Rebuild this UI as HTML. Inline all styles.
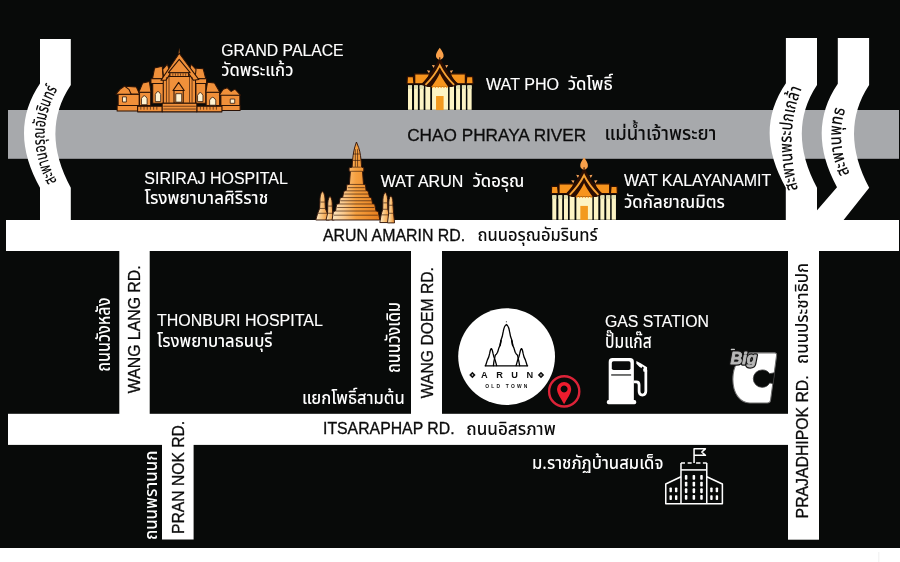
<!DOCTYPE html>
<html lang="th">
<head>
<meta charset="utf-8">
<title>Arun Old Town – Map</title>
<style>
html,body{margin:0;padding:0;background:#fff;}
body{width:900px;height:562px;overflow:hidden;}
svg{display:block;will-change:transform;}
.en{font-family:"Liberation Sans",Arial,Helvetica,sans-serif;font-size:15.6px;stroke-width:0.15px;}
.th{font-family:"Noto Sans Thai","Anuphan","IBM Plex Sans Thai","Liberation Sans","Loma",sans-serif;font-size:17.7px;font-weight:500;}
.w{fill:#fff;stroke:#fff;}
.k{fill:#0c0c0c;stroke:#0c0c0c;stroke-width:0.3px;}
.th{stroke:none;}
</style>
</head>
<body>
<svg width="900" height="562" viewBox="0 0 900 562">

<defs>
<linearGradient id="gArunS" x1="0" y1="0" x2="1" y2="0"><stop offset="0" stop-color="#fdebc8"/><stop offset="0.45" stop-color="#f9c47e"/><stop offset="1" stop-color="#ee8d2c"/></linearGradient>
<linearGradient id="gArun" x1="0" y1="0" x2="1" y2="0">
<stop offset="0" stop-color="#fee6c0"/><stop offset="0.24" stop-color="#fbc98c"/><stop offset="0.5" stop-color="#f5a040"/><stop offset="1" stop-color="#e67d1c"/>
</linearGradient>
<!-- temple pictogram drawn in a 11.2375x zoom frame, origin = (400,42) of the page -->
<g id="wat">
 <!-- side roofs -->
 <g fill="#f7941d" stroke="#2a0d02" stroke-width="14" stroke-linejoin="round">
  <path d="M82,388 H150 L158,470 H78 Z"/>
  <path d="M818,388 H750 L742,470 H822 Z"/>
  <path d="M165,358 H335 Q300,450 250,470 H165 Z"/>
  <path d="M735,358 H565 Q600,450 650,470 H735 Z"/>
 </g>
 <!-- spikes -->
 <g fill="#f9a45a">
  <path d="M358,258 L392,262 L378,292 Z"/><path d="M542,258 L508,262 L522,292 Z"/>
  <path d="M302,318 L340,322 L325,352 Z"/><path d="M598,318 L560,322 L575,352 Z"/>
 </g>
 <!-- columns -->
 <g fill="#fdf4c4">
  <rect x="90" y="487" width="45" height="275"/>
  <rect x="158" y="487" width="43" height="275"/>
  <rect x="221" y="487" width="45" height="275"/>
  <rect x="285" y="462" width="55" height="300"/>
  <rect x="360" y="500" width="180" height="262"/>
  <rect x="557" y="462" width="50" height="300"/>
  <rect x="630" y="487" width="45" height="275"/>
  <rect x="696" y="487" width="44" height="275"/>
  <rect x="757" y="487" width="48" height="275"/>
 </g>
 <g fill="#e2dfb0">
  <rect x="90" y="487" width="45" height="40"/><rect x="158" y="487" width="43" height="40"/><rect x="221" y="487" width="45" height="40"/>
  <rect x="630" y="487" width="45" height="40"/><rect x="696" y="487" width="44" height="40"/><rect x="757" y="487" width="48" height="40"/>
 </g>
 <rect x="405" y="607" width="85" height="158" fill="#f39a1f"/>
 <!-- gable -->
 <path d="M447,168 Q398,300 236,480 L310,506 H585 L658,480 Q496,300 447,168 Z" fill="#2a0d02"/>
 <path d="M447,350 Q422,408 354,502 H541 Q472,408 447,350 Z" fill="#f7941d"/>
 <path d="M350,500 l16,20 l16,-20 l16,20 l16,-20 l16,20 l16,-20 l16,20 l16,-20 l16,20 l16,-20 l16,20 l16,-20 Z" fill="#f7941d"/>
 <path d="M286,482 Q392,374 447,262 Q502,374 608,482" fill="none" stroke="#f7a233" stroke-width="21" stroke-linejoin="miter" stroke-miterlimit="10"/>
 <!-- finial -->
 <path d="M447,64 C472,100 494,128 490,160 C486,186 462,194 447,202 C432,194 408,186 404,160 C400,128 422,100 447,64 Z" fill="#f9a04a"/>
 <path d="M447,172 L447,215" stroke="#2a0d02" stroke-width="12"/>
</g>
</defs>
<!-- background -->
<rect x="0" y="0" width="900" height="562" fill="#fff"/>
<rect x="0" y="0" width="900" height="548" fill="#080a09"/>
<rect x="878.3" y="552" width="1" height="10" fill="#efefef"/>

<!-- river -->
<rect id="river" x="8" y="110" width="891" height="48.8" fill="#a7a9ac"/>

<!-- roads -->
<g id="roads" fill="#fff">
<rect x="6" y="220" width="893" height="31"/>
<rect x="8" y="413.8" width="781" height="31.1"/>
<rect x="119.3" y="250" width="30.4" height="165"/>
<rect x="411" y="250" width="31" height="165"/>
<rect x="162" y="444" width="31.6" height="95.5"/>
<rect x="788" y="250" width="31" height="289.7"/>
<!-- bridges -->
<path d="M40,39 H70.8 V85 Q40,131 70.8,187.7 V221 H40 V187.7 Q8,130.5 40,83.5 Z"/>
<path d="M785.9,38.1 H817 V85 Q786.6,131 817,187.7 V221 H785.8 V187.7 Q753.4,130.5 785.9,83.3 Z"/>
<path d="M837.8,38.1 H869.1 V85 Q838.9,131 869.2,187.8 L843.6,220 V221 H816 V211.5 L837,187.2 Q806,130.5 837.8,83.8 Z"/>
</g>


<!-- ICONS -->
<g id="icons">

<!-- Grand Palace: drawn in a 7.806x zoom frame, origin (112,45) -->
<g id="palace" transform="translate(112,45) scale(0.12811)" fill="#f0903a" stroke="#2a1206" stroke-width="8" stroke-linejoin="round">
 <!-- left pavilion -->
 <path d="M48,385 H212 V472 H48 Z"/>
 <path d="M98,322 L190,328 L215,382 H140 Z"/>
 <path d="M30,384 L62,346 L98,320 L132,346 L150,384 Z"/>
 <rect x="82" y="405" width="30" height="40" fill="#fff3d2" stroke-width="6"/>
 <!-- section 2 left -->
 <path d="M215,368 H302 V472 H215 Z"/>
 <path d="M210,368 L240,296 L292,284 L304,368 Z"/>
 <path d="M230,466 V418 Q252,374 274,418 V466 Z" fill="#fff3d2" stroke-width="6"/>
 <!-- section 3 left -->
 <path d="M318,300 H402 V455 H318 Z"/>
 <path d="M316,264 L332,180 L392,166 L400,264 Z"/>
 <path d="M304,264 H404 V300 H304 Z"/>
 <path d="M338,442 V386 Q359,340 380,386 V442 Z" fill="#fff3d2" stroke-width="6"/>
 <!-- section 3 right -->
 <path d="M655,300 H732 V455 H655 Z"/>
 <path d="M640,264 L628,180 L712,186 L732,264 Z"/>
 <path d="M650,264 H738 V300 H650 Z"/>
 <path d="M668,442 V394 Q689,348 710,394 V442 Z" fill="#fff3d2" stroke-width="6"/>
 <!-- section 2 right -->
 <path d="M735,368 H840 V472 H735 Z"/>
 <path d="M733,368 L745,290 L800,296 L842,368 Z"/>
 <path d="M762,470 V430 Q786,386 810,430 V470 Z" fill="#fff3d2" stroke-width="6"/>
 <!-- right pavilion -->
 <path d="M850,390 H998 V472 H850 Z"/>
 <path d="M838,390 L868,346 L900,334 L930,362 L960,344 L1004,392 Z"/>
 <rect x="923" y="422" width="35" height="33" fill="#fff3d2" stroke-width="6"/>
 <!-- secondary roof tiers -->
 <path d="M432,150 L396,190 L404,262 H470 Z"/>
 <path d="M618,150 L656,190 L648,262 H580 Z"/>
 <!-- centre hall -->
 <path d="M400,245 H652 V455 H400 Z"/>
 <path d="M525,26 L519,70 H531 Z" stroke-width="3"/>
 <path d="M525,64 L382,276 L420,276 L525,120 L636,276 L678,270 Z"/>
 <path d="M525,112 L440,216 H610 Z"/>
 <path d="M452,216 H598 V246 H452 Z"/>
 <path d="M475,222 V240 M495,222 V240 M515,222 V240 M535,222 V240 M555,222 V240 M575,222 V240" fill="none" stroke-width="5"/>
 <path d="M425,250 V450 M445,250 V450 M605,250 V450 M625,250 V450" fill="none" stroke-width="5"/>
 <path d="M520,292 L476,356 H564 Z"/>
 <path d="M484,356 H556 V452 H484 Z"/>
 <rect x="498" y="380" width="46" height="66" fill="#fff3d2" stroke-width="6"/>
 <!-- base / balustrade -->
 <path d="M40,472 H200 V516 H40 Z"/>
 <path d="M856,472 H1000 V512 H856 Z"/>
 <path d="M200,478 H392 V522 H200 Z"/>
 <path d="M662,478 H858 V522 H662 Z"/>
 <path d="M392,455 H662 V522 H392 Z"/>
 <path d="M400,478 H655 M400,500 H655" fill="none" stroke-width="5"/>
 <path d="M225,480 V505 M250,480 V505 M275,480 V505 M300,480 V505 M325,480 V505 M350,480 V505 M690,480 V505 M715,480 V505 M740,480 V505 M765,480 V505 M790,480 V505 M815,480 V505" fill="none" stroke-width="5"/>
</g>

<!-- Wat Arun: drawn in a 6.244x zoom frame, origin (310,138) -->
<g id="watarun" transform="translate(310,138) scale(0.16015)" stroke="#33160a" stroke-width="6" stroke-linejoin="round" fill="url(#gArun)">
 <!-- small prangs left -->
 <path fill="url(#gArunS)" d="M78,333 C64,345 61,375 62,400 L60,440 L48,470 L36,512 H122 L108,470 L96,440 L94,400 C95,375 92,345 78,333 Z"/>
 <path fill="url(#gArunS)" d="M125,363 C113,375 110,400 111,425 L110,470 L100,512 H152 L142,470 L139,425 C140,400 137,375 125,363 Z"/>
 <!-- small prangs right -->
 <path fill="url(#gArunS)" d="M470,338 C457,350 454,380 455,405 L454,445 L444,480 L436,528 H500 L494,480 L486,445 L485,405 C486,380 483,350 470,338 Z"/>
 <path fill="url(#gArunS)" d="M505,360 C493,372 491,395 492,420 L491,470 L484,530 H528 L522,470 L518,420 C519,395 517,372 505,360 Z"/>
 <!-- main prang -->
 <path d="M290,25 L280,56 Q267,100 263,182 L244,186 V206 L252,210 L246,290 L230,292 L226,328 L212,332 L204,370 L188,374 L182,410 L166,414 L160,455 L146,460 L138,512 H436 L426,460 L412,455 L404,414 L390,410 L384,374 L372,370 L362,332 L350,328 L346,292 L334,290 L328,210 L336,206 V186 L322,182 Q318,100 304,60 Z"/>
 <g fill="none" stroke-width="4">
  <path d="M246,290 H334 M236,310 H342 M226,330 H350 M214,350 H362 M204,372 H372 M190,392 H384 M182,412 H392 M170,434 H402 M160,456 H414 M150,482 H424"/>
  <path d="M270,100 H310 M266,140 H314 M263,182 H317 M252,208 H328"/>
  <path d="M283,70 V180 M297,70 V180"/>
  <path d="M66,400 H92 M62,440 H96 M50,470 H108 M114,425 H137 M110,470 H142 M458,405 H484 M454,445 H486 M444,480 H494 M494,420 H517 M490,470 H522"/>
 </g>
</g>

<!-- Arun Old Town logo -->
<g id="logo">
 <circle cx="506.6" cy="356.6" r="48.4" fill="#fff"/>
 <g transform="translate(480,318) scale(0.0926)" fill="none" stroke="#000" stroke-width="14" stroke-linejoin="round" stroke-linecap="round">
  <circle cx="285" cy="40" r="6" fill="#111" stroke="none"/>
  <path d="M145,515 L150,470 L165,402 L177,390 L190,370 L205,320 L220,290 L224,245 L240,200 L250,150 Q262,82 285,70 Q308,82 320,150 L330,200 L346,245 L350,290 L365,320 L380,370 L393,390 L405,402 L420,470 L428,515"/>
  <path d="M216,292 L228,246 M354,292 L342,246" stroke-width="16"/>
  <path d="M60,515 L80,452 L95,420 L105,380 Q112,335 122,330 Q132,335 140,380 L150,420 L165,460 L180,515"/>
  <path d="M510,515 L490,452 L475,420 L465,380 Q458,335 448,330 Q438,335 430,380 L420,420 L405,460 L390,515"/>
  <path d="M55,517 H515" stroke-width="13"/>
 </g>
 <g fill="#111">
  <path d="M472.4,371.8 l3.2,3.2 l-3.2,3.2 l-3.2,-3.2 Z M541,371.8 l3.2,3.2 l-3.2,3.2 l-3.2,-3.2 Z"/>
 </g>
 <g fill="#fff"><circle cx="472.4" cy="375" r="0.8"/><circle cx="541" cy="375" r="0.8"/></g>
 <text x="481.1 496.2 511.3 526.4" y="378" font-family="'Liberation Sans',Arial,sans-serif" font-weight="bold" font-size="9.2" fill="#111">ARUN</text>
 <text x="485.2" y="387.5" font-family="'Liberation Sans',Arial,sans-serif" font-weight="bold" font-size="4.9" letter-spacing="2.2" fill="#111" textLength="44.4" lengthAdjust="spacing">OLD TOWN</text>
</g>
<!-- location pin -->
<g id="pin">
 <circle cx="564.2" cy="391.4" r="15.1" fill="none" stroke="#dc2338" stroke-width="2.4"/>
 <path d="M564.1,404.3 C561,398.5 557,393.5 557,389 A7.1,7.1 0 0 1 571.2,389 C571.2,393.5 567.2,398.5 564.1,404.3 Z M564.1,385.5 a3.5,3.5 0 1 0 0.01,0 Z" fill="#ee1c2e" fill-rule="evenodd"/>
</g>
<!-- gas pump: 8.025x zoom frame, origin (590,345) -->
<g id="gas" transform="translate(590,345) scale(0.12461)">
 <path d="M150,445 V135 Q150,105 180,105 H322 Q352,105 352,135 V445 Z" fill="#fff"/>
 <rect x="135" y="442" width="236" height="34" rx="14" fill="#fff"/>
 <rect x="175" y="130" width="150" height="70" rx="14" fill="#080a09"/>
 <rect x="170" y="236" width="160" height="9" fill="#080a09"/>
 <path d="M350,295 H372 Q394,295 394,320 V372 Q394,402 420,402 Q448,402 448,372 V200" fill="none" stroke="#fff" stroke-width="22"/>
 <path d="M372,128 L410,148 L458,178 V215 H430 L424,190 L398,176 L372,150 Z" fill="#fff"/>
 <path d="M418,172 L432,180 L428,196 L414,188 Z" fill="#080a09"/>
</g>
<!-- Big C: 8.65x zoom frame, origin (725,345) -->
<g id="bigc" transform="translate(725,345) scale(0.1156)">
 <path d="M215,68 H428 Q450,68 446,92 L394,478 Q390,502 366,502 H215 C130,500 68,420 68,296 C68,180 130,80 215,68 Z" fill="#fff" stroke="#6f6f6f" stroke-width="9" stroke-linejoin="round"/>
 <path d="M320,216 A75,75 0 1 0 320.1,366 A75,75 0 0 0 386,328 L416,334 L430,240 L386,248 A75,75 0 0 0 320,216 Z" fill="#080a09" stroke="#3c3c3c" stroke-width="7" stroke-linejoin="round"/>
 <rect x="50" y="32" width="36" height="14" rx="4" fill="#c9c9c9"/>
</g>
<g fill="#141414" stroke="#141414" stroke-width="3.4" stroke-linejoin="round"><use href="#bigtxt"/></g>
<g fill="#b8b8b8" stroke="#b8b8b8" stroke-width="0.9" stroke-linejoin="round"><text id="bigtxt" x="730.6" y="364.0" font-family="'Liberation Sans',Arial,sans-serif" font-weight="bold" font-style="italic" font-size="16.4" textLength="26.2" lengthAdjust="spacingAndGlyphs">Big</text></g>
<!-- university building: 7.489x zoom frame, origin (650,440) -->
<g id="uni" transform="translate(650,440) scale(0.13353)" fill="none" stroke="#fff" stroke-width="11.5" stroke-linejoin="round">
 <path d="M232,478 V172 M425,478 V172"/>
 <path d="M232,172 H262 M282,172 H312 M345,172 H378 M396,172 H425" />
 <path d="M232,224 H425"/>
 <path d="M232,275 L118,330 V478 H542 V330 L425,275"/>
 <path d="M330,172 V66 H415 L388,90 L415,115 H335"/>
 <g stroke="none" fill="#fff">
  <rect x="261" y="262" width="19" height="36" rx="6"/><rect x="319" y="262" width="19" height="36" rx="6"/><rect x="376" y="262" width="19" height="36" rx="6"/>
  <rect x="261" y="312" width="19" height="36" rx="6"/><rect x="319" y="312" width="19" height="36" rx="6"/><rect x="376" y="312" width="19" height="36" rx="6"/>
  <rect x="261" y="362" width="19" height="36" rx="6"/><rect x="319" y="362" width="19" height="36" rx="6"/><rect x="376" y="362" width="19" height="36" rx="6"/>
  <rect x="261" y="412" width="19" height="36" rx="6"/><rect x="319" y="412" width="19" height="36" rx="6"/><rect x="376" y="412" width="19" height="36" rx="6"/>
  <rect x="146" y="355" width="18" height="36" rx="6"/><rect x="187" y="355" width="18" height="36" rx="6"/>
  <rect x="146" y="414" width="18" height="36" rx="6"/><rect x="187" y="414" width="18" height="36" rx="6"/>
  <rect x="451" y="355" width="18" height="36" rx="6"/><rect x="492" y="355" width="18" height="36" rx="6"/>
  <rect x="451" y="414" width="18" height="36" rx="6"/><rect x="492" y="414" width="18" height="36" rx="6"/>
 </g>
</g>
<use href="#wat" transform="translate(400,42) scale(0.08899)"/>
<use href="#wat" transform="translate(544.3,151.9) scale(0.08899)"/>
</g>
<!-- LABELS -->
<g id="labels">
<text class="en w" transform="translate(221.30,55.70)" textLength="122.25" lengthAdjust="spacingAndGlyphs">GRAND PALACE</text>
<text class="th w" transform="translate(221.30,76.20)" textLength="72.10" lengthAdjust="spacingAndGlyphs">วัดพระแก้ว</text>
<text class="en w" transform="translate(486.00,90.10)" textLength="73.10" lengthAdjust="spacingAndGlyphs">WAT PHO</text>
<text class="th w" transform="translate(567.70,90.30)" textLength="45.00" lengthAdjust="spacingAndGlyphs">วัดโพธิ์</text>
<text class="en k" transform="translate(407.20,140.60)" textLength="179.00" lengthAdjust="spacingAndGlyphs" style="font-size:17px">CHAO PHRAYA RIVER</text>
<text class="th k" transform="translate(604.40,140.40)" textLength="112.00" lengthAdjust="spacingAndGlyphs" style="font-size:19.4px">แม่น้ำเจ้าพระยา</text>
<text class="en w" transform="translate(144.30,184.20)" textLength="143.50" lengthAdjust="spacingAndGlyphs">SIRIRAJ HOSPITAL</text>
<text class="th w" transform="translate(144.60,204.30)" textLength="123.60" lengthAdjust="spacingAndGlyphs">โรงพยาบาลศิริราช</text>
<text class="en w" transform="translate(380.80,186.70)" textLength="82.50" lengthAdjust="spacingAndGlyphs">WAT ARUN</text>
<text class="th w" transform="translate(472.50,186.70)" textLength="51.90" lengthAdjust="spacingAndGlyphs">วัดอรุณ</text>
<text class="en w" transform="translate(624.00,186.20)" textLength="147.30" lengthAdjust="spacingAndGlyphs">WAT KALAYANAMIT</text>
<text class="th w" transform="translate(624.00,207.95)" textLength="100.85" lengthAdjust="spacingAndGlyphs">วัดกัลยาณมิตร</text>
<text class="en k" transform="translate(323.00,241.00)" textLength="142.20" lengthAdjust="spacingAndGlyphs">ARUN AMARIN RD.</text>
<text class="th k" transform="translate(477.50,241.20)" textLength="120.10" lengthAdjust="spacingAndGlyphs">ถนนอรุณอัมรินทร์</text>
<text class="en w" transform="translate(157.00,325.50)" textLength="165.80" lengthAdjust="spacingAndGlyphs">THONBURI HOSPITAL</text>
<text class="th w" transform="translate(157.00,346.50)" textLength="115.60" lengthAdjust="spacingAndGlyphs">โรงพยาบาลธนบุรี</text>
<text class="th w" transform="translate(302.00,404.00)" textLength="102.70" lengthAdjust="spacingAndGlyphs">แยกโพธิ์สามต้น</text>
<text class="en k" transform="translate(323.00,434.30)" textLength="131.60" lengthAdjust="spacingAndGlyphs">ITSARAPHAP RD.</text>
<text class="th k" transform="translate(466.30,434.50)" textLength="89.40" lengthAdjust="spacingAndGlyphs">ถนนอิสรภาพ</text>
<text class="en w" transform="translate(605.00,326.65)" textLength="104.00" lengthAdjust="spacingAndGlyphs">GAS STATION</text>
<text class="th w" transform="translate(605.00,348.20)" textLength="46.70" lengthAdjust="spacingAndGlyphs" style="font-size:18.6px">ปั๊มแก๊ส</text>
<text class="th w" transform="translate(532.00,468.90)" textLength="131.40" lengthAdjust="spacingAndGlyphs">ม.ราชภัฏบ้านสมเด็จ</text>
<text class="th w" transform="translate(110.20,371.70) rotate(-90)" textLength="74.10" lengthAdjust="spacingAndGlyphs" style="font-size:20px">ถนนวังหลัง</text>
<text class="en k" transform="translate(140.20,393.15) rotate(-90)" textLength="127.75" lengthAdjust="spacingAndGlyphs">WANG LANG RD.</text>
<text class="th w" transform="translate(400.40,373.00) rotate(-90)" textLength="71.00" lengthAdjust="spacingAndGlyphs" style="font-size:19.5px">ถนนวังเดิม</text>
<text class="en k" transform="translate(433.30,398.20) rotate(-90)" textLength="131.15" lengthAdjust="spacingAndGlyphs">WANG DOEM RD.</text>
<text class="th w" transform="translate(156.60,540.10) rotate(-90)" textLength="89.50" lengthAdjust="spacingAndGlyphs">ถนนพรานนก</text>
<text class="en k" transform="translate(184.30,534.00) rotate(-90)" textLength="113.20" lengthAdjust="spacingAndGlyphs">PRAN NOK RD.</text>
<text class="en k" transform="translate(808.10,518.40) rotate(-90)" textLength="143.00" lengthAdjust="spacingAndGlyphs">PRAJADHIPOK RD.</text>
<text class="th k" transform="translate(807.70,363.90) rotate(-90)" textLength="101.10" lengthAdjust="spacingAndGlyphs">ถนนประชาธิปก</text>
</g>

<!-- bridge labels (text on curved paths) -->
<g id="bridgelabels" class="th k">
<path id="bpL" d="M60.6,205 V187.7 Q28.6,135.5 60.6,84 V60" fill="none" stroke="none"/>
<path id="bp1" d="M800,196 Q780.9,132 805.5,80" fill="none" stroke="none"/>
<path id="bp2" d="M857.1,205 V187.7 Q825.2,135.5 857.1,84 V60" fill="none" stroke="none"/>
<text style="font-size:17.2px"><textPath href="#bpL" startOffset="24.5" textLength="97" lengthAdjust="spacingAndGlyphs">สะพานอรุณอัมรินทร์</textPath></text>
<text style="font-size:18px"><textPath href="#bp1" startOffset="6.8" textLength="102.8" lengthAdjust="spacingAndGlyphs">สะพานพระปกเกล้า</textPath></text>
<text style="font-size:18px"><textPath href="#bp2" startOffset="33" textLength="66.5" lengthAdjust="spacingAndGlyphs">สะพานพุทธ</textPath></text>
</g>
</svg>
</body>
</html>
